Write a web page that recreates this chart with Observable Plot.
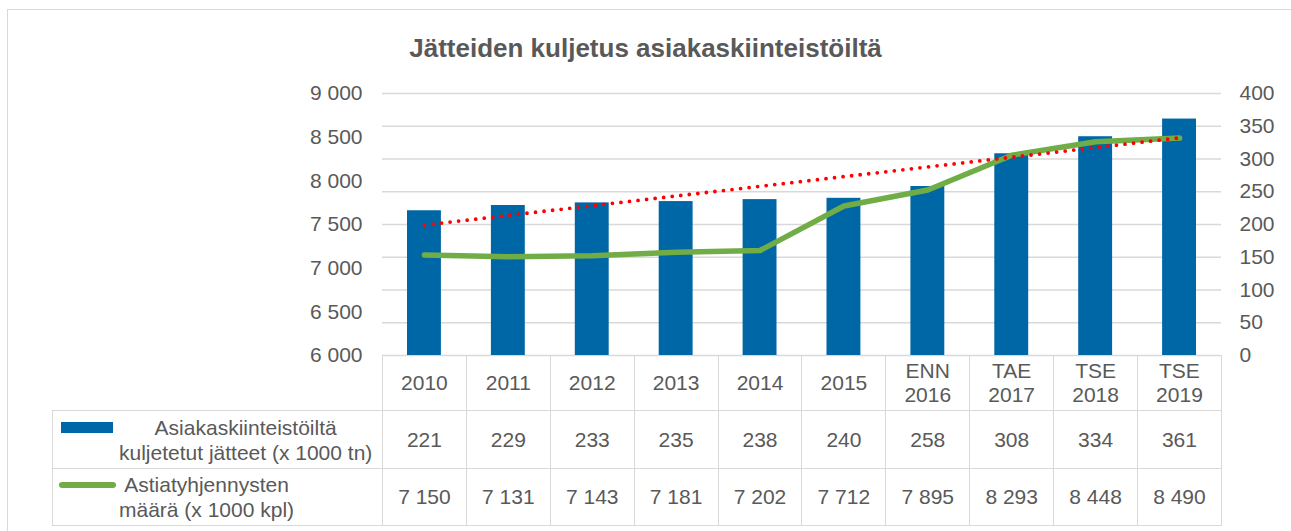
<!DOCTYPE html>
<html><head><meta charset="utf-8">
<script src="https://cdn.jsdelivr.net/npm/d3@7"></script>
<script src="https://cdn.jsdelivr.net/npm/@observablehq/plot@0.6"></script>
<style>
body{margin:0;background:#fff;font-family:"Liberation Sans",Arial,sans-serif;color:#595959}
#wrap{position:relative;width:1291px;height:531px;overflow:hidden;background:#fff}
#frame{position:absolute;left:7px;top:9px;width:1320px;height:600px;border:1.5px solid #d9d9d9;box-sizing:border-box}
#title{position:absolute;left:7px;width:1277px;top:33px;text-align:center;font-weight:bold;font-size:26px;line-height:30px;color:#595959}
#chart{position:absolute;left:0;top:0}
#tbl{position:absolute;left:52px;top:355px;border-collapse:collapse;table-layout:fixed;font-size:21px;color:#595959}
#tbl td{border:1.5px solid #d9d9d9;text-align:center;padding:0;line-height:24px;vertical-align:middle}
#tbl td.blank{border-top:none;border-left:none}
.lg{display:flex;align-items:flex-start}
.lt{text-align:center;line-height:25px}
</style></head>
<body>
<div id="wrap">
  <div id="frame"></div>
  <div id="title"></div>
  <div id="chart"></div>
  <table id="tbl"></table>
</div>
<script>
const title = "Jätteiden kuljetus asiakaskiinteistöiltä";
const categories = ["2010","2011","2012","2013","2014","2015","ENN\n2016","TAE\n2017","TSE\n2018","TSE\n2019"];
const tonnes = [221,229,233,235,238,240,258,308,334,361];
const emptyings = [7150,7131,7143,7181,7202,7712,7895,8293,8448,8490];
const rightTicks = [0,50,100,150,200,250,300,350,400];
const leftTicks = [6000,6500,7000,7500,8000,8500,9000];
const seriesNames = ["Asiakaskiinteistöiltä\nkuljetetut jätteet (x 1000 tn)", "Astiatyhjennysten\nmäärä (x 1000 kpl)"];
const barColor = "#0067a6";
const lineColor = "#70ad47";

const locale = d3.formatLocale({decimal: ",", thousands: "\u00a0", grouping: [3]});
const fmt = locale.format(",d");

const lMin = leftTicks[0], lMax = leftTicks[leftTicks.length - 1];
const rMax = rightTicks[rightTicks.length - 1];
const leftToRight = v => (v - lMin) / (lMax - lMin) * rMax;
const rightToLeft = v => lMin + v / rMax * (lMax - lMin);

const data = categories.map((c, i) => ({i, c, t: tonnes[i], e: emptyings[i]}));

document.getElementById("title").textContent = title;

const chart = Plot.plot({
  width: 1291,
  height: 380,
  marginTop: 93,
  marginBottom: 25,
  marginLeft: 382,
  marginRight: 70,
  x: {domain: [0, categories.length], axis: null, label: null},
  y: {domain: [0, rMax], axis: null, label: null},
  style: {fontFamily: "'Liberation Sans', Arial, sans-serif", fontSize: "21px", color: "#595959", background: "transparent"},
  marks: [
    Plot.gridY(rightTicks, {stroke: "#d9d9d9", strokeOpacity: 1, strokeWidth: 1.5}),
    Plot.rectY(data, {x1: d => d.i, x2: d => d.i + 1, y1: 0, y2: "t", fill: barColor, insetLeft: 25, insetRight: 25}),
    Plot.line(data, {x: d => d.i + 0.5, y: d => leftToRight(d.e), stroke: lineColor, strokeWidth: 5.5, strokeLinecap: "round", strokeLinejoin: "round"}),
    Plot.linearRegressionY(data, {x: d => d.i + 0.5, y: "t", stroke: "#ff0000", strokeWidth: 3.8, strokeDasharray: "0 8.6", strokeLinecap: "round", ci: 0}),
    Plot.axisY(leftTicks.map(leftToRight), {anchor: "left", label: null, tickSize: 0, tickPadding: 20, tickFormat: d => fmt(Math.round(rightToLeft(d))), fill: "#595959"}),
    Plot.axisY(rightTicks, {anchor: "right", label: null, tickSize: 0, tickPadding: 18, tickFormat: d => String(d), fill: "#595959"})
  ]
});
document.getElementById("chart").appendChild(chart);

// data table
const colW = (1221 - 382) / categories.length;
const tbl = document.getElementById("tbl");
const cg = document.createElement("colgroup");
[330, ...categories.map(() => colW)].forEach(w => {
  const c = document.createElement("col"); c.style.width = w + "px"; cg.appendChild(c);
});
tbl.appendChild(cg);

const r0 = tbl.insertRow(); r0.style.height = "55px";
const b = r0.insertCell(); b.className = "blank";
categories.forEach(c => { const td = r0.insertCell(); td.innerHTML = c.split("\n").join("<br>"); });

function legendRow(name, values, swatchHtml, rowH, gap) {
  const r = tbl.insertRow(); r.style.height = rowH + "px";
  const td = r.insertCell();
  td.style.textAlign = "left";
  td.innerHTML = `<div class="lg">${swatchHtml}<div class="lt" style="margin-left:${gap}px">${name.split("\n").join("<br>")}</div></div>`;
  values.forEach(v => { const c = r.insertCell(); c.textContent = v; });
}
legendRow(seriesNames[0], tonnes.map(String),
  `<span style="display:block;width:52px;height:11px;background:${barColor};margin-left:8px;margin-top:7px;flex:none"></span>`, 58, 6);
legendRow(seriesNames[1], emptyings.map(fmt),
  `<span style="display:block;width:57px;height:6px;border-radius:3px;background:${lineColor};margin-left:6px;margin-top:9.5px;flex:none"></span>`, 57, 3);
</script>
</body></html>
